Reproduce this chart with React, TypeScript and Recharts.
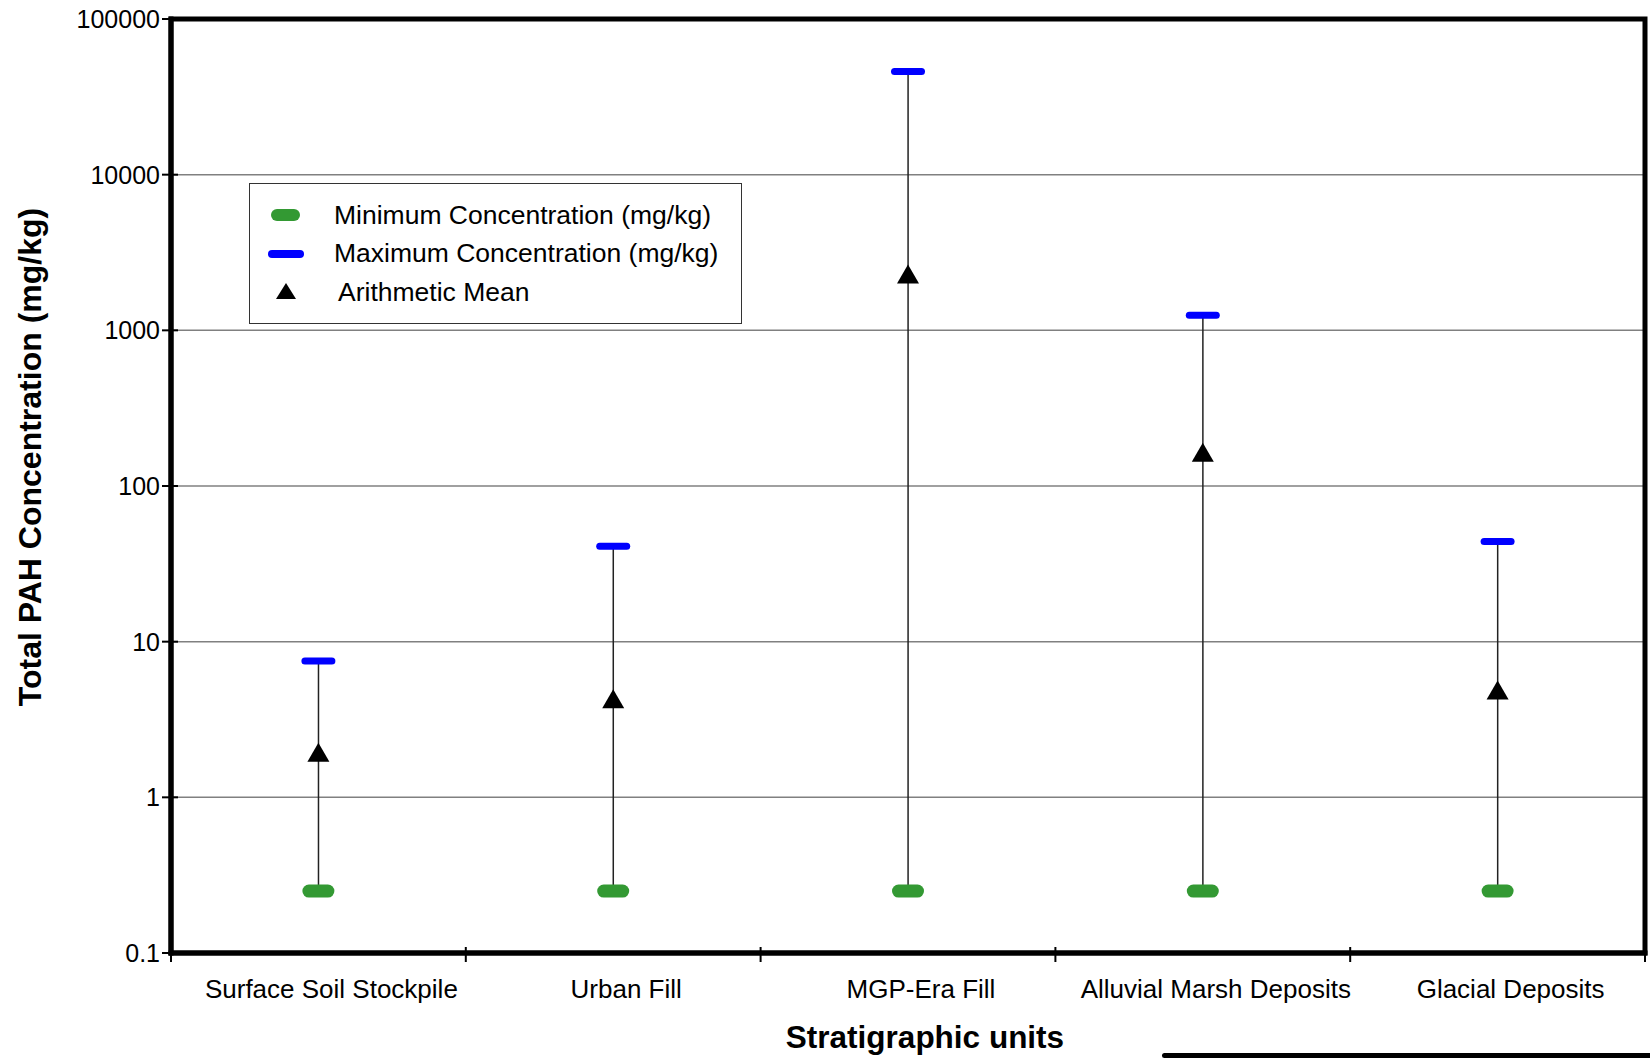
import { ComposedChart, Bar, Line, XAxis, YAxis, CartesianGrid, Legend, ReferenceArea } from 'recharts'

const categories = ['Surface Soil Stockpile', 'Urban Fill', 'MGP-Era Fill', 'Alluvial Marsh Deposits', 'Glacial Deposits']
const minValues = [0.25, 0.25, 0.25, 0.25, 0.25]
const maxValues = [7.5, 41, 46000, 1250, 44]
const meanValues = [1.95, 4.3, 2300, 165, 4.9]
const yTicks = [0.1, 1, 10, 100, 1000, 10000, 100000]

const data = categories.map((name, i) => ({
  name,
  min: minValues[i],
  max: maxValues[i],
  mean: meanValues[i],
}))

const W = 1650
const H = 1058
const LEFT = 171
const RIGHT = 5
const BAND = (W - LEFT - RIGHT) / categories.length
const FONT = '"Liberation Sans", Arial, Helvetica, sans-serif'
const GREEN = '#339933'
const BLUE = '#0000ff'

function RangeLine(props: any) {
  const { x, y, width, height } = props
  if (x == null || y == null) return null
  const cx = x + width / 2
  return <line x1={cx} x2={cx} y1={y} y2={y + height} stroke="#222" strokeWidth={1.5} />
}

function MinDot(props: any) {
  const { cx, cy, index } = props
  if (cx == null || cy == null) return null
  return <rect key={'min' + index} x={cx - 16} y={cy - 6.5} width={32} height={13} rx={6.5} fill={GREEN} />
}

function MaxDot(props: any) {
  const { cx, cy, index } = props
  if (cx == null || cy == null) return null
  return <rect key={'max' + index} x={cx - 17} y={cy - 3.5} width={34} height={7} rx={3.5} fill={BLUE} />
}

function MeanDot(props: any) {
  const { cx, cy, index } = props
  if (cx == null || cy == null) return null
  return (
    <path
      key={'mean' + index}
      d={`M${cx},${cy - 9.5} L${cx + 11},${cy + 9.5} L${cx - 11},${cy + 9.5} Z`}
      fill="#000"
    />
  )
}

function XTick({ x, y, payload, index }: any) {
  const last = index === categories.length - 1
  return (
    <g>
      <line x1={x - BAND / 2} x2={x - BAND / 2} y1={y - 6} y2={y + 9} stroke="#000" strokeWidth={2} />
      {last && <line x1={x + BAND / 2} x2={x + BAND / 2} y1={y - 6} y2={y + 9} stroke="#000" strokeWidth={2} />}
      <text x={x + 13} y={y + 45} textAnchor="middle" fontSize={26} fontFamily={FONT} fill="#000">
        {payload.value}
      </text>
    </g>
  )
}

function YTick({ x, y, payload }: any) {
  return (
    <g>
      <line x1={x + 2} x2={x + 18} y1={y} y2={y} stroke="#000" strokeWidth={2} />
      <text x={x} y={y + 9} textAnchor="end" fontSize={25} fontFamily={FONT} fill="#000">
        {payload.value}
      </text>
    </g>
  )
}

function YTitle() {
  return (
    <text
      x={30}
      y={457}
      transform="rotate(-90, 30, 457)"
      textAnchor="middle"
      dominantBaseline="central"
      fontSize={32}
      fontWeight="bold"
      fontFamily={FONT}
      fill="#000"
    >
      Total PAH Concentration (mg/kg)
    </text>
  )
}

function LegendBox() {
  const row = { display: 'flex', alignItems: 'center', height: 38.5 }
  return (
    <div
      style={{
        width: 493,
        height: 141,
        boxSizing: 'border-box',
        border: '1px solid #333',
        background: '#fff',
        fontFamily: FONT,
        fontSize: 26.5,
        color: '#000',
        paddingTop: 12,
      }}
    >
      <div style={row}>
        <svg width={84} height={20}>
          <rect x={21} y={4} width={29} height={12} rx={6} fill={GREEN} />
        </svg>
        <span>Minimum Concentration (mg/kg)</span>
      </div>
      <div style={row}>
        <svg width={84} height={20}>
          <rect x={18} y={6} width={36} height={8} rx={4} fill={BLUE} />
        </svg>
        <span>Maximum Concentration (mg/kg)</span>
      </div>
      <div style={row}>
        <svg width={88} height={20}>
          <path d="M36,1 L46,17 L26,17 Z" fill="#000" />
        </svg>
        <span>Arithmetic Mean</span>
      </div>
    </div>
  )
}

export default function App() {
  const axisStroke = { stroke: '#000', strokeWidth: 5, strokeLinecap: 'square' as const }
  return (
    <div style={{ position: 'relative', width: W, height: H, background: '#fff', fontFamily: FONT }}>
      <style>{'body{margin:0}'}</style>
      <ComposedChart width={W} height={H} data={data} margin={{ top: 19, right: RIGHT, left: 0, bottom: 0 }}>
        <CartesianGrid vertical={false} stroke="#808080" strokeWidth={1.5} />
        <ReferenceArea y1={0.1} y2={100000} fill="none" stroke="#000" strokeWidth={5} ifOverflow="visible" />
        <XAxis
          dataKey="name"
          height={105}
          interval={0}
          tickLine={false}
          tickSize={0}
          tickMargin={0}
          axisLine={axisStroke}
          tick={<XTick />}
          label={{
            value: 'Stratigraphic units',
            position: 'insideBottom',
            offset: 10,
            dx: 17,
            style: { fontSize: 31.5, fontWeight: 'bold', fontFamily: FONT, fill: '#000' },
          }}
        />
        <YAxis
          scale="log"
          type="number"
          domain={[0.1, 100000]}
          ticks={yTicks}
          allowDataOverflow
          interval={0}
          width={LEFT}
          tickLine={false}
          tickSize={0}
          tickMargin={11}
          axisLine={axisStroke}
          tick={<YTick />}
          label={{ content: <YTitle /> }}
        />
        <Legend
          content={<LegendBox />}
          layout="horizontal"
          verticalAlign="middle"
          align="center"
          wrapperStyle={{ left: 249, top: 183, width: 493, height: 141 }}
        />
        <Bar dataKey={(d: any) => [d.min, d.max]} shape={<RangeLine />} isAnimationActive={false} legendType="none" />
        <Line dataKey="min" stroke="none" dot={<MinDot />} activeDot={false} isAnimationActive={false} legendType="none" />
        <Line dataKey="max" stroke="none" dot={<MaxDot />} activeDot={false} isAnimationActive={false} legendType="none" />
        <Line dataKey="mean" stroke="none" dot={<MeanDot />} activeDot={false} isAnimationActive={false} legendType="none" />
      </ComposedChart>
      <div style={{ position: 'absolute', left: 1162, top: 1053, width: 488, height: 5, background: '#000', borderRadius: '3px 0 0 3px' }} />
    </div>
  )
}
